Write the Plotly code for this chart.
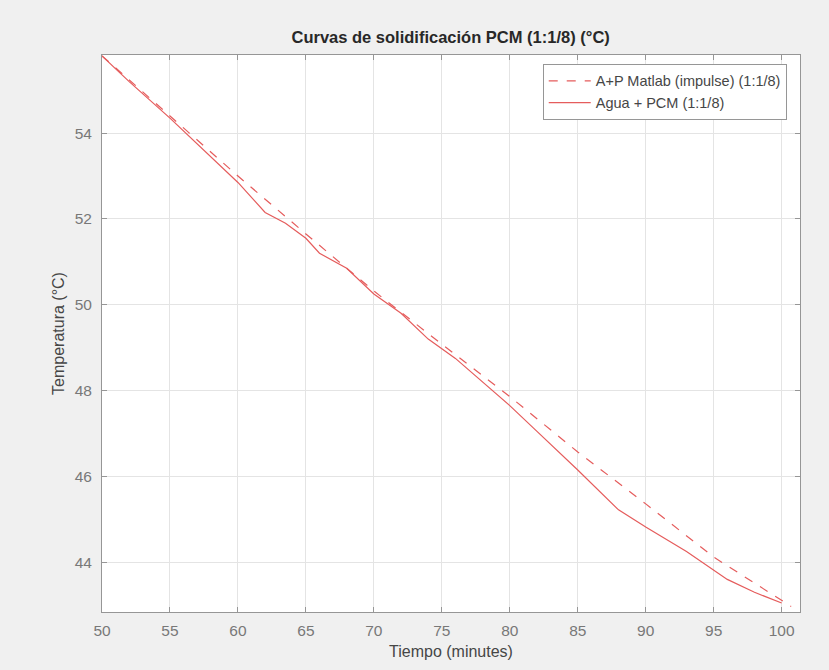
import plotly.graph_objects as go

# Modelo (respuesta impulsional) A+P Matlab (1:1/8)
t_model = [50, 55, 60, 65, 70, 75, 80, 85, 90, 95, 100, 100.7]
T_model = [55.80, 54.40, 53.00, 51.65, 50.32, 49.08, 47.86, 46.57, 45.36, 44.12, 43.10, 42.97]

# Medida experimental Agua + PCM (1:1/8)
t_meas = [50, 52, 55, 57.5, 60, 62, 63.5, 65, 66, 68, 70, 72, 74, 76, 78, 80,
          82, 85, 88, 90, 93, 96, 98, 100]
T_meas = [55.80, 55.20, 54.35, 53.60, 52.85, 52.15, 51.90, 51.55, 51.20, 50.85,
          50.25, 49.80, 49.20, 48.75, 48.20, 47.65, 47.05, 46.15, 45.22, 44.82,
          44.25, 43.60, 43.30, 43.05]

x_ticks = [50, 55, 60, 65, 70, 75, 80, 85, 90, 95, 100]
y_ticks = [44, 46, 48, 50, 52, 54]

RED = "rgb(229,92,92)"
AXIS = "rgb(150,150,150)"
TXT = "rgb(70,70,70)"
FONT = "Liberation Sans, Arial, sans-serif"

fig = go.Figure()
fig.add_trace(go.Scatter(
    x=t_model, y=T_model, mode="lines",
    name="A+P Matlab (impulse) (1:1/8)",
    line=dict(color=RED, width=1.2, dash="dash"),
))
fig.add_trace(go.Scatter(
    x=t_meas, y=T_meas, mode="lines",
    name="Agua + PCM (1:1/8)",
    line=dict(color=RED, width=1.2),
))

axis_common = dict(
    showline=True, linecolor=AXIS, linewidth=1, mirror="ticks",
    ticks="inside", ticklen=5, tickcolor=AXIS,
    showgrid=True, gridcolor="rgb(228,228,228)", gridwidth=1,
    zeroline=False,
    tickfont=dict(family=FONT, size=15.5, color="rgb(120,120,120)"),
)

fig.update_xaxes(
    range=[50, 101.35], tickvals=x_ticks, ticklabelstandoff=4,
    title=dict(text="Tiempo (minutes)", font=dict(family=FONT, size=16, color=TXT), standoff=8),
    **axis_common,
)
fig.update_yaxes(
    range=[42.84, 55.82], tickvals=y_ticks, ticklabelstandoff=6,
    title=dict(text="Temperatura (°C)", font=dict(family=FONT, size=16, color=TXT), standoff=6),
    **axis_common,
)

fig.update_layout(
    width=829, height=670,
    margin=dict(l=102, r=29, t=55, b=58),
    paper_bgcolor="rgb(240,240,240)",
    plot_bgcolor="white",
    title=dict(
        text="<b>Curvas de solidificación PCM (1:1/8) (°C)</b>",
        font=dict(family=FONT, size=16.5, color="rgb(40,40,40)"),
        x=0.5436, xanchor="center", y=0.944, yanchor="middle",
    ),
    legend=dict(
        x=0.981, y=0.984, xanchor="right", yanchor="top",
        bgcolor="white", bordercolor="rgb(150,150,150)", borderwidth=1,
        font=dict(family=FONT, size=14.5, color=TXT),
        tracegroupgap=0, itemwidth=42,
    ),
    showlegend=True,
)

fig.write_html("out.html")
